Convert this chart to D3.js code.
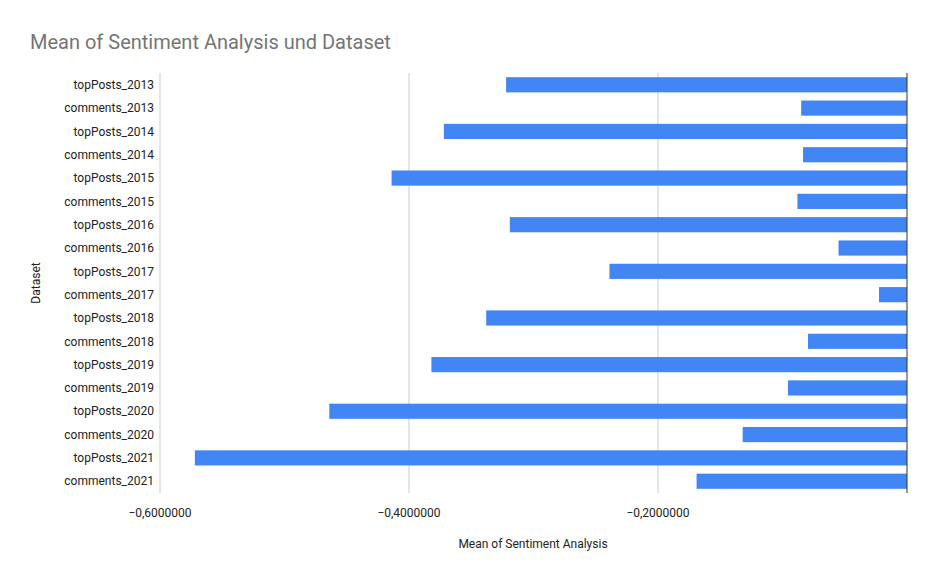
<!DOCTYPE html>
<html><head><meta charset="utf-8">
<script src="https://cdn.jsdelivr.net/npm/d3@7"></script>
<style>body{margin:0;background:#fff;font-family:Roboto,Arial,sans-serif}</style>
</head><body><div id="chart"></div>
<script>
const categories = ['topPosts_2013','comments_2013','topPosts_2014','comments_2014','topPosts_2015','comments_2015','topPosts_2016','comments_2016','topPosts_2017','comments_2017','topPosts_2018','comments_2018','topPosts_2019','comments_2019','topPosts_2020','comments_2020','topPosts_2021','comments_2021'];
const values = [-0.322,-0.085,-0.372,-0.0835,-0.414,-0.088,-0.319,-0.055,-0.239,-0.0225,-0.338,-0.0795,-0.382,-0.0956,-0.464,-0.132,-0.572,-0.169];
const tickValues = [-0.6,-0.4,-0.2];

const W = 936, H = 579;
const margin = {left:160, right:29, top:73, bottom:86};
const width = W - margin.left - margin.right, height = H - margin.top - margin.bottom;

const svg = d3.select('#chart').append('svg').attr('width', W).attr('height', H);
const g = svg.append('g').attr('transform', `translate(${margin.left},${margin.top})`);

const x = d3.scaleLinear().domain([-0.6, 0]).range([0, width]);
const y = d3.scaleBand().domain(categories).range([0, height]).paddingInner(0.35).paddingOuter(0.18);

g.selectAll('.grid').data(tickValues).enter().append('line')
  .attr('x1', d => x(d)).attr('x2', d => x(d)).attr('y1', 0).attr('y2', height)
  .attr('stroke', '#cccccc');

g.selectAll('.bar').data(values).enter().append('rect')
  .attr('x', d => x(d)).attr('y', (d, i) => y(categories[i]))
  .attr('width', d => x(0) - x(d)).attr('height', y.bandwidth())
  .attr('fill', '#4285f4');

g.append('line').attr('x1', x(0)).attr('x2', x(0)).attr('y1', 0).attr('y2', height)
  .attr('stroke', '#333').attr('stroke-width', 1);

g.selectAll('.xt').data(tickValues).enter().append('text')
  .attr('x', d => x(d)).attr('y', height + 24).attr('text-anchor', 'middle')
  .attr('font-size', 12).attr('fill', '#222').text(d => d3.format('.7f')(d).replace('.', ',').replace('-', '-'));

g.selectAll('.yt').data(categories).enter().append('text')
  .attr('x', -6).attr('y', d => y(d) + y.bandwidth() / 2).attr('dy', '0.35em')
  .attr('text-anchor', 'end').attr('font-size', 12).attr('fill', '#222').text(d => d);

svg.append('text').attr('x', 30).attr('y', 49).attr('font-size', 20).attr('fill', '#757575')
  .text('Mean of Sentiment Analysis und Dataset');
svg.append('text').attr('x', 533).attr('y', 548).attr('text-anchor', 'middle')
  .attr('font-size', 12).attr('fill', '#222').text('Mean of Sentiment Analysis');
svg.append('text').attr('transform', `translate(40,${margin.top + height / 2}) rotate(-90)`)
  .attr('text-anchor', 'middle').attr('font-size', 12).attr('fill', '#222').text('Dataset');
</script></body></html>
